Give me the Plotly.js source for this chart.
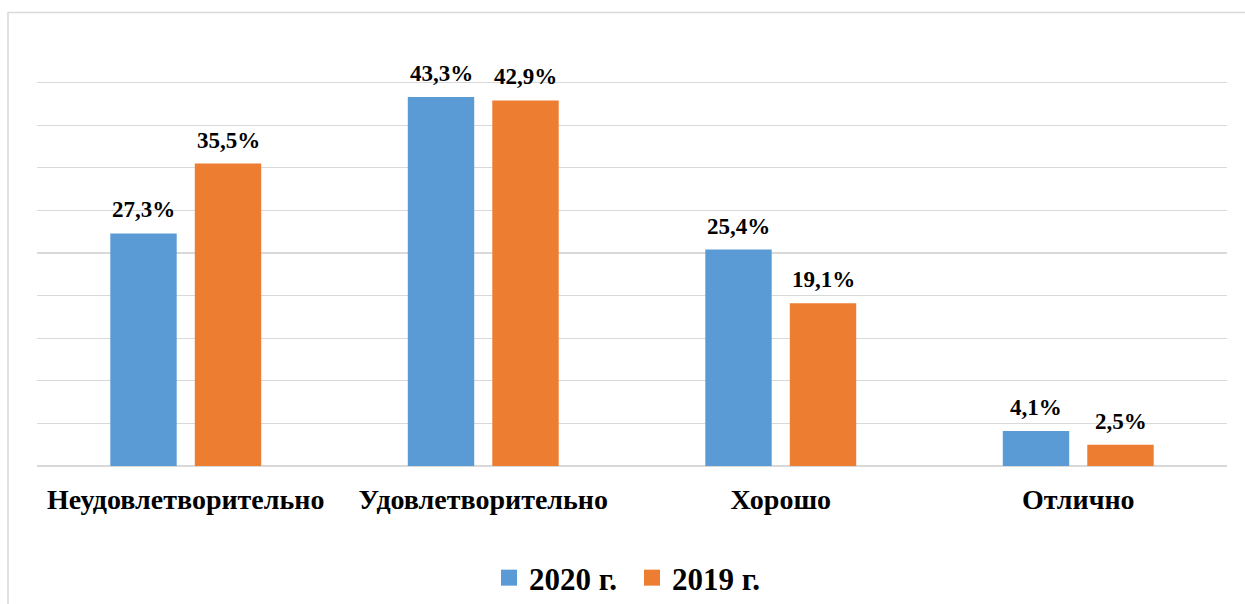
<!DOCTYPE html>
<html>
<head>
<meta charset="utf-8">
<script src="https://cdn.plot.ly/plotly-3.0.1.min.js"></script>
<style>html,body{margin:0;padding:0;background:#fff;}#chart{width:1245px;height:604px;}</style>
</head>
<body>
<div id="chart"></div>
<script>
var categories = ["Неудовлетворительно", "Удовлетворительно", "Хорошо", "Отлично"];
var seriesNames = ["2020 г.", "2019 г."];
var values2020 = [27.3, 43.3, 25.4, 4.1];
var values2019 = [35.5, 42.9, 19.1, 2.5];
var yTicks = [0, 5, 10, 15, 20, 25, 30, 35, 40, 45, 50];

var colors = ["#5b9bd5", "#ed7d31"];
var allValues = [values2020, values2019];
var FONT = "Liberation Serif";

function fmt(v) { return v.toFixed(1).replace(".", ",") + "%"; }

var traces = [];
allValues.forEach(function (vals, i) {
  traces.push({
    type: "bar", x: categories, y: vals, name: seriesNames[i],
    marker: { color: colors[i] }, showlegend: false, hoverinfo: "skip"
  });
});
allValues.forEach(function (vals, i) {
  traces.push({
    type: "scatter", mode: "markers", x: [null], y: [null], name: "<b>" + seriesNames[i] + "</b>",
    marker: { symbol: "square", size: 17, color: colors[i] }, showlegend: true, hoverinfo: "skip"
  });
});

var annotations = [];
allValues.forEach(function (vals, i) {
  vals.forEach(function (v, j) {
    annotations.push({
      x: categories[j], y: v, xref: "x", yref: "y", text: "<b>" + fmt(v) + "</b>", showarrow: false,
      xanchor: "center", yanchor: "bottom", xshift: i === 0 ? -42.25 : 42.25, yshift: 9,
      font: { family: FONT, size: 23, color: "#000" }
    });
  });
});

var layout = {
  width: 1245, height: 604,
  margin: { l: 37, r: 18, t: 40, b: 138, autoexpand: false },
  paper_bgcolor: "#fff", plot_bgcolor: "#fff",
  font: { family: FONT },
  barmode: "group", bargap: 0.432, bargroupgap: 0.214,
  xaxis: {
    type: "category", showgrid: false, zeroline: false, showline: false, ticks: "",
    tickvals: categories, ticktext: categories.map(function (c) { return "<b>" + c + "</b>"; }),
    tickfont: { family: FONT, size: 28, color: "#000" }, ticklabelstandoff: 14
  },
  yaxis: {
    range: [0, 50], tickvals: yTicks, showticklabels: false, showgrid: true,
    gridcolor: "#d9d9d9", gridwidth: 1.3, zeroline: true, zerolinecolor: "#d9d9d9", zerolinewidth: 1.3,
    showline: false, fixedrange: true
  },
  showlegend: true,
  legend: {
    orientation: "h", x: 0.5, xanchor: "center", xref: "paper",
    yref: "container", y: 1 - 578 / 604, yanchor: "middle",
    font: { family: FONT, size: 31, color: "#000" },
    itemsizing: "trace", entrywidth: 98, entrywidthmode: "pixels"
  },
  annotations: annotations,
  shapes: [{
    type: "rect", xref: "paper", yref: "paper",
    x0: (8 - 37) / 1190, x1: (1260 - 37) / 1190,
    y0: (466 - 620) / 426, y1: (466 - 12.5) / 426,
    line: { color: "#d9d9d9", width: 1.5 }, fillcolor: "rgba(0,0,0,0)", layer: "below"
  }]
};

Plotly.newPlot("chart", traces, layout, { displayModeBar: false, staticPlot: true });
</script>
</body>
</html>
